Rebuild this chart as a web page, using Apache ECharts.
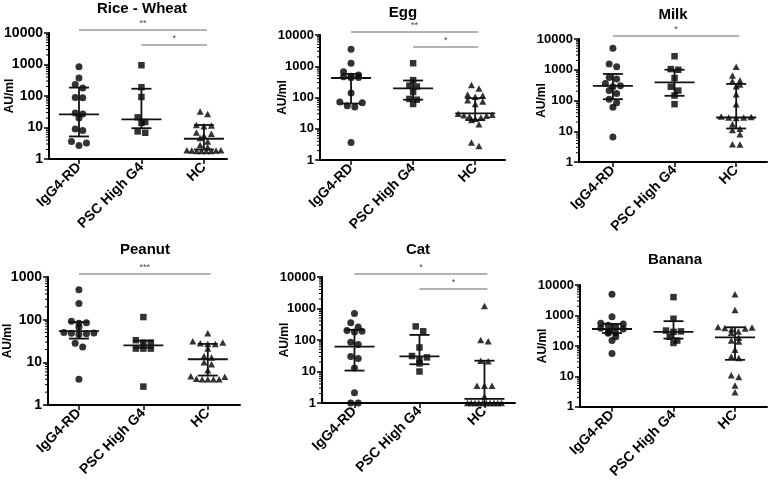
<!DOCTYPE html>
<html><head><meta charset="utf-8">
<script src="https://cdn.jsdelivr.net/npm/echarts@6/dist/echarts.min.js"></script>
<style>html,body{margin:0;padding:0;background:#fff}#c{width:768px;height:481px}</style>
</head><body><div id="c"></div>
<script>
// ---------- DATA ----------
const groups = ['IgG4-RD', 'PSC High G4', 'HC'];
const panelTitles = ['Rice - Wheat', 'Egg', 'Milk', 'Peanut', 'Cat', 'Banana'];
const yAxisName = 'AU/ml';
const yMaxValues = [10000, 10000, 10000, 1000, 10000, 10000];
const minorMultipliers = [2, 3, 4, 5, 6, 7, 8, 9];

// Rice - Wheat
const riceIgG4 = [850, 375, 230, 180, 90, 88, 29, 27, 20, 9, 8, 3.6, 3.2, 2.7];
const ricePSC  = [950, 190, 93, 21, 15, 14, 7.5, 6.8];
const riceHC   = [32, 27, 12, 11.5, 11, 7, 6.3, 5.5, 4.6, 3.6, 2.8, 2.4, 1.9, 1.9, 1.85, 1.85, 1.8, 1.8, 1.8, 1.8];
const riceMedian = [26, 18, 4.4];
const riceQ1     = [5.2, 9.5, 2.0];
const riceQ3     = [185, 170, 12];
const riceSig    = [[0, 2, '**'], [1, 2, '*']];

// Egg
const eggIgG4 = [3500, 1250, 670, 520, 480, 460, 440, 430, 140, 72, 68, 54, 50, 3.6];
const eggPSC  = [1250, 360, 240, 225, 150, 90, 85, 62];
const eggHC   = [250, 195, 125, 115, 105, 82, 75, 62, 30, 28, 27, 26, 25, 23, 21, 19, 14, 3.6, 2.8];
const eggMedian = [420, 195, 31];
const eggQ1     = [64, 85, 19];
const eggQ3     = [570, 350, 95];
const eggSig    = [[0, 2, '**'], [1, 2, '*']];

// Milk
const milkIgG4 = [5000, 1550, 1250, 560, 500, 360, 300, 280, 210, 170, 110, 85, 60, 6.5];
const milkPSC  = [2750, 1050, 1000, 540, 280, 210, 145, 76];
const milkHC   = [1250, 650, 450, 430, 330, 290, 160, 75, 30, 29, 28, 28, 27, 17, 12, 11, 8, 3.8, 3.7];
const milkMedian = [300, 390, 28];
const milkQ1     = [110, 142, 12.3];
const milkQ3     = [730, 1000, 345];
const milkSig    = [[0, 2, '*']];

// Peanut
const peanutIgG4 = [500, 240, 92, 85, 82, 66, 50, 49, 48, 47, 45, 28, 23, 4];
const peanutPSC  = [115, 33, 29, 29, 21, 21, 21, 2.7];
const peanutHC   = [48, 31, 29, 28, 27, 27, 21, 14, 13, 10, 9, 6.5, 4.7, 4.6, 4.1, 4.0, 4.0, 4.0, 4.0];
const peanutMedian = [54, 25, 11.8];
const peanutQ1     = [36, 22, 4.9];
const peanutQ3     = [88, 32, 27];
const peanutSig    = [[0, 2, '***']];

// Cat
const catIgG4 = [690, 350, 260, 200, 190, 180, 85, 72, 30, 26, 13, 2.1, 1, 1];
const catPSC  = [270, 190, 58, 31, 28, 24, 18, 10];
const catHC   = [1200, 100, 92, 22, 21, 3.5, 3.5, 3.5, 1.6, 1, 1, 1, 1, 1, 1, 1, 1, 1, 1];
const catMedian = [62, 30, 1.35];
const catQ1     = [10.7, 17, 1];
const catQ3     = [210, 145, 22];
const catSig    = [[0, 2, '*'], [1, 2, '*']];

// Banana
const bananaIgG4 = [5000, 900, 560, 520, 480, 430, 380, 360, 280, 270, 260, 200, 150, 57];
const bananaPSC  = [4000, 780, 320, 300, 290, 200, 150, 125];
const bananaHC   = [5000, 1500, 420, 400, 390, 370, 350, 300, 270, 190, 150, 140, 75, 45, 40, 11, 9.5, 5, 3];
const bananaMedian = [360, 290, 190];
const bananaQ1     = [265, 174, 35];
const bananaQ3     = [530, 650, 410];
const bananaSig    = [];

const panelValues = [
  [riceIgG4, ricePSC, riceHC], [eggIgG4, eggPSC, eggHC], [milkIgG4, milkPSC, milkHC],
  [peanutIgG4, peanutPSC, peanutHC], [catIgG4, catPSC, catHC], [bananaIgG4, bananaPSC, bananaHC]
];
const panelMedian = [riceMedian, eggMedian, milkMedian, peanutMedian, catMedian, bananaMedian];
const panelQ1 = [riceQ1, eggQ1, milkQ1, peanutQ1, catQ1, bananaQ1];
const panelQ3 = [riceQ3, eggQ3, milkQ3, peanutQ3, catQ3, bananaQ3];
const panelSig = [riceSig, eggSig, milkSig, peanutSig, catSig, bananaSig];

// ---------- LAYOUT ----------
const layout = [
  {left: 49,  top: 33,  width: 178, height: 126, xmin: -0.48, xmax: 2.37, fs: 14, gap: 33, tx: 142, ty: 9},
  {left: 320, top: 35,  width: 185, height: 125, xmin: -0.50, xmax: 2.48, fs: 13, gap: 31, tx: 403, ty: 13},
  {left: 579, top: 39,  width: 188, height: 123, xmin: -0.55, xmax: 2.50, fs: 13, gap: 31, tx: 673, ty: 15},
  {left: 48,  top: 277, width: 192, height: 128, xmin: -0.48, xmax: 2.50, fs: 14, gap: 34, tx: 145, ty: 250},
  {left: 322, top: 277, width: 193, height: 126, xmin: -0.50, xmax: 2.47, fs: 13, gap: 31, tx: 418, ty: 250},
  {left: 580, top: 285, width: 187, height: 122, xmin: -0.52, xmax: 2.52, fs: 13, gap: 31, tx: 675, ty: 260}
];
const symbols = ['circle', 'rect', 'triangle'];
const symSizes = [7, 6.5, [7, 6.5]];
const ROW_TOL = 5, STEP = 7.5, MAXW = 34;

function swarm(vals, gi, decadePx, unitPx) {
  const pts = vals.map(v => ({v, y: Math.log10(v) * decadePx})).sort((a, b) => b.y - a.y);
  const rows = []; let cur = null;
  for (const p of pts) {
    if (cur && cur[0].y - p.y <= ROW_TOL) cur.push(p); else { cur = [p]; rows.push(cur); }
  }
  const out = [];
  for (const r of rows) {
    const n = r.length;
    const sp = n > 1 ? Math.min(STEP, MAXW / (n - 1)) : 0;
    const slots = [];
    for (let i = 0; i < n; i++) slots.push((i - (n - 1) / 2) * sp);
    slots.sort((a, b) => (Math.abs(b) - Math.abs(a)) || (a - b));
    r.forEach((p, i) => out.push([gi + slots[i] / unitPx, p.v]));
  }
  return out;
}

const grid = [], xAxis = [], yAxis = [], series = [], graphic = [];
layout.forEach((L, k) => {
  grid.push({left: L.left, top: L.top, width: L.width, height: L.height, containLabel: false});
  xAxis.push({
    type: 'value', gridIndex: k, min: L.xmin, max: L.xmax,
    axisLine: {show: true, onZero: false, lineStyle: {color: '#000', width: 2}},
    axisTick: {show: true, customValues: [0, 1, 2], length: 5, lineStyle: {color: '#000', width: 1.5}},
    axisLabel: {show: true, customValues: [0, 1, 2], rotate: 45, margin: 6,
      formatter: v => groups[Math.round(v)], color: '#000', fontWeight: 'bold', fontSize: 14,
      fontFamily: 'Liberation Sans'},
    splitLine: {show: false}
  });
  yAxis.push({
    type: 'log', logBase: 10, gridIndex: k, min: 1, max: yMaxValues[k],
    name: yAxisName, nameLocation: 'middle', nameGap: L.gap, nameMoveOverlap: false,
    nameTextStyle: {color: '#000', fontWeight: 'bold', fontSize: 12, fontFamily: 'Liberation Sans'},
    axisLine: {show: true, onZero: false, lineStyle: {color: '#000', width: 2}},
    axisTick: {show: true, length: 5, lineStyle: {color: '#000', width: 1.5}},
    minorTick: {show: false},
    axisLabel: {color: '#000', fontWeight: 'bold', fontSize: L.fs, margin: 6, fontFamily: 'Liberation Sans',
      formatter: v => String(Math.round(v))},
    splitLine: {show: false}
  });
  const decades = Math.log10(yMaxValues[k]);
  const decadePx = L.height / decades;
  const unitPx = L.width / (L.xmax - L.xmin);
  // minor log ticks (2..9 within each decade)
  const minorVals = [];
  for (let d = 0; d < decades; d++) minorMultipliers.forEach(m => minorVals.push([0, m * Math.pow(10, d)]));
  series.push({
    type: 'custom', xAxisIndex: k, yAxisIndex: k, clip: false, z: 1, silent: true,
    encode: {x: 0, y: 1}, data: minorVals,
    renderItem: (params, api) => {
      const y = api.coord([0, api.value(1)])[1];
      const x = params.coordSys.x;
      return {type: 'line', shape: {x1: x - 3, y1: y, x2: x, y2: y}, style: {stroke: '#000', lineWidth: 1}};
    }
  });
  panelValues[k].forEach((vals, gi) => {
    series.push({
      type: 'scatter', xAxisIndex: k, yAxisIndex: k, clip: false,
      symbol: symbols[gi], symbolSize: symSizes[gi],
      itemStyle: {color: '#000'},
      data: swarm(vals, gi, decadePx, unitPx), z: 2
    });
  });
  series.push({
    type: 'custom', xAxisIndex: k, yAxisIndex: k, clip: false, z: 3,
    encode: {x: 0, y: [1, 2, 3]},
    data: groups.map((g, gi) => [gi, panelMedian[k][gi], panelQ1[k][gi], panelQ3[k][gi]]),
    renderItem: (params, api) => {
      const gi = api.value(0);
      const pm = api.coord([gi, api.value(1)]);
      const p1 = api.coord([gi, api.value(2)]);
      const p3 = api.coord([gi, api.value(3)]);
      const st = {stroke: '#111', lineWidth: 1.8};
      return {type: 'group', children: [
        {type: 'line', shape: {x1: pm[0] - 20, y1: pm[1], x2: pm[0] + 20, y2: pm[1]}, style: st},
        {type: 'line', shape: {x1: p1[0], y1: p1[1], x2: p3[0], y2: p3[1]}, style: st},
        {type: 'line', shape: {x1: p1[0] - 10, y1: p1[1], x2: p1[0] + 10, y2: p1[1]}, style: st},
        {type: 'line', shape: {x1: p3[0] - 10, y1: p3[1], x2: p3[0] + 10, y2: p3[1]}, style: st}
      ]};
    }
  });
  const sig = panelSig[k];
  if (sig.length) {
    series.push({
      type: 'custom', xAxisIndex: k, yAxisIndex: k, clip: false, z: 3,
      encode: {x: [0, 1], y: 2},
      data: sig.map((s, i) => [s[0], s[1], i + 1]),
      renderItem: (params, api) => {
        const cs = params.coordSys;
        const row = api.value(2) - 1;
        const xa = api.coord([api.value(0), 1])[0];
        const xb = api.coord([api.value(1), 1])[0] + 3;
        const y = cs.y + (row === 0 ? -3 : 12);
        return {type: 'group', children: [
          {type: 'line', shape: {x1: xa, y1: y, x2: xb, y2: y}, style: {stroke: '#666', lineWidth: 1}},
          {type: 'text', style: {text: sig[params.dataIndex][2], x: (xa + xb) / 2, y: y - 2,
            align: 'center', verticalAlign: 'bottom', fill: '#444', font: '9px Liberation Sans'}}
        ]};
      }
    });
  }
  graphic.push({type: 'text', x: L.tx, y: L.ty,
    style: {text: panelTitles[k], align: 'center', verticalAlign: 'middle', fill: '#000',
      font: 'bold 15px Liberation Sans'}});
});

const chart = echarts.init(document.getElementById('c'), null, {renderer: 'canvas'});
chart.setOption({animation: false, backgroundColor: '#fff', grid, xAxis, yAxis, series, graphic});
</script></body></html>
